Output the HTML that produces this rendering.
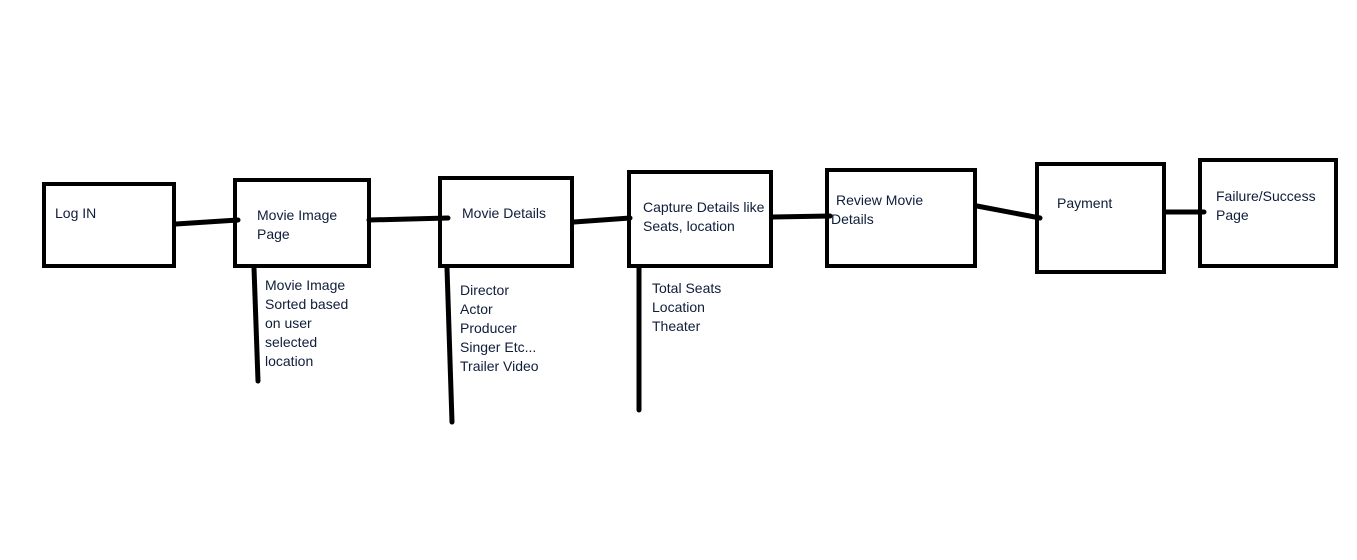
<!DOCTYPE html>
<html><head><meta charset="utf-8"><style>
html,body{margin:0;padding:0;background:#fff;}
svg{display:block}
text{font-family:"Liberation Sans",sans-serif;font-size:14px;fill:#0f1c3a;}
</style></head><body>
<svg width="1357" height="560" viewBox="0 0 1357 560" xmlns="http://www.w3.org/2000/svg">
<g fill="none" stroke="#000" stroke-width="4">
<rect x="44" y="184" width="130" height="82"/>
<rect x="235" y="180" width="134" height="86"/>
<rect x="440" y="178" width="132" height="88"/>
<rect x="629" y="172" width="142" height="94"/>
<rect x="827" y="170" width="148" height="96"/>
<rect x="1037" y="164" width="127" height="108"/>
<rect x="1200" y="160" width="136" height="106"/>
</g>
<g stroke="#000" stroke-width="5" stroke-linecap="round" fill="none">
<line x1="176" y1="224" x2="238" y2="220"/>
<line x1="369" y1="220" x2="448" y2="218"/>
<line x1="574" y1="222" x2="630" y2="218"/>
<line x1="773" y1="217" x2="830" y2="216"/>
<line x1="977" y1="206" x2="1040" y2="218"/>
<line x1="1166" y1="212" x2="1204" y2="212"/>
<line x1="254" y1="268" x2="258" y2="381"/>
<line x1="447" y1="268" x2="452" y2="422"/>
<line x1="639" y1="268" x2="639" y2="410"/>
</g>
<text x="55" y="218">Log IN</text>
<text x="257" y="220">Movie Image</text>
<text x="257" y="239">Page</text>
<text x="462" y="218">Movie Details</text>
<text x="643" y="212">Capture Details like</text>
<text x="643" y="231">Seats, location</text>
<text x="836" y="205">Review Movie</text>
<text x="831" y="224">Details</text>
<text x="1057" y="208">Payment</text>
<text x="1216" y="201">Failure/Success</text>
<text x="1216" y="220">Page</text>
<text x="265" y="290">Movie Image</text>
<text x="265" y="309">Sorted based</text>
<text x="265" y="328">on user</text>
<text x="265" y="347">selected</text>
<text x="265" y="366">location</text>
<text x="460" y="295">Director</text>
<text x="460" y="314">Actor</text>
<text x="460" y="333">Producer</text>
<text x="460" y="352">Singer Etc...</text>
<text x="460" y="371">Trailer Video</text>
<text x="652" y="293">Total Seats</text>
<text x="652" y="312">Location</text>
<text x="652" y="331">Theater</text>
</svg>
</body></html>
